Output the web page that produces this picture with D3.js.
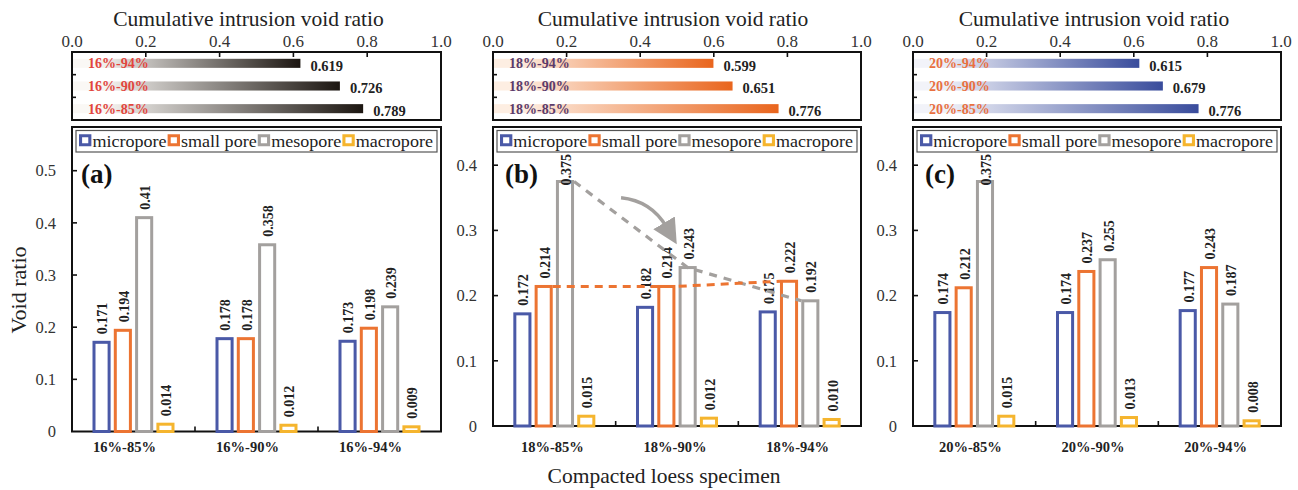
<!DOCTYPE html>
<html>
<head>
<meta charset="utf-8">
<script src="https://cdn.jsdelivr.net/npm/d3@7"></script>
<style>
  html, body { margin: 0; padding: 0; background: #fff; }
  svg { display: block; font-family: "Liberation Serif", "DejaVu Serif", serif; }
</style>
</head>
<body>
<svg id="chart" width="1298" height="490"></svg>
<script>
// ---- data ----
const seriesNames = ["micropore", "small pore", "mesopore", "macropore"];

const specimensA = ["16%-85%", "16%-90%", "16%-94%"];
const microA = [0.171, 0.178, 0.173];
const smallA = [0.194, 0.178, 0.198];
const mesoA  = [0.41, 0.358, 0.239];
const macroA = [0.014, 0.012, 0.009];
const cumRowsA = ["16%-94%", "16%-90%", "16%-85%"];
const cumA = [0.619, 0.726, 0.789];

const specimensB = ["18%-85%", "18%-90%", "18%-94%"];
const microB = [0.172, 0.182, 0.175];
const smallB = [0.214, 0.214, 0.222];
const mesoB  = [0.375, 0.243, 0.192];
const macroB = [0.015, 0.012, 0.010];
const cumRowsB = ["18%-94%", "18%-90%", "18%-85%"];
const cumB = [0.599, 0.651, 0.776];

const specimensC = ["20%-85%", "20%-90%", "20%-94%"];
const microC = [0.174, 0.174, 0.177];
const smallC = [0.212, 0.237, 0.243];
const mesoC  = [0.375, 0.255, 0.187];
const macroC = [0.015, 0.013, 0.008];
const cumRowsC = ["20%-94%", "20%-90%", "20%-85%"];
const cumC = [0.615, 0.679, 0.776];

const cumTicks = [0, 0.2, 0.4, 0.6, 0.8, 1.0];
const voidTicksA = [0, 0.1, 0.2, 0.3, 0.4, 0.5];
const voidTicksBC = [0, 0.1, 0.2, 0.3, 0.4];

// ---- styling / layout ----
const seriesColors = ["#4a59a7", "#ec7432", "#a3a09e", "#f5b52e"];

const panels = [
  { tag: "(a)", left: 72, right: 441, base: 431.5, yTop: 170.7, yMax: 0.5, ticks: voidTicksA,
    specimens: specimensA, series: [microA, smallA, mesoA, macroA], rows: cumRowsA, cum: cumA,
    gradFrom: "#faf8f5", gradTo: "#1c1611", rowLabel: "#e2453d", catDx: -9, titleDx: -8 },
  { tag: "(b)", left: 493, right: 861, base: 426, yTop: 165.2, yMax: 0.4, ticks: voidTicksBC,
    specimens: specimensB, series: [microB, smallB, mesoB, macroB], rows: cumRowsB, cum: cumB,
    gradFrom: "#fdeee2", gradTo: "#e9651d", rowLabel: "#5b3b6c", catDx: -2, titleDx: -4 },
  { tag: "(c)", left: 913, right: 1281, base: 426, yTop: 165.2, yMax: 0.4, ticks: voidTicksBC,
    specimens: specimensC, series: [microC, smallC, mesoC, macroC], rows: cumRowsC, cum: cumC,
    gradFrom: "#f2f3f9", gradTo: "#394c9c", rowLabel: "#e9703f", catDx: -4, titleDx: -3 }
];

const fmt = v => (v > 0.1 && Math.round(v * 1000) % 10 === 0) ? d3.format(".2f")(v) : d3.format(".3f")(v);

const svg = d3.select("#chart");
const defs = svg.append("defs");

defs.append("marker")
  .attr("id", "arrowHead")
  .attr("markerUnits", "userSpaceOnUse")
  .attr("viewBox", "0 0 20 20")
  .attr("refX", 4).attr("refY", 10)
  .attr("markerWidth", 25).attr("markerHeight", 25)
  .attr("orient", "auto")
  .append("path")
  .attr("d", "M0,0 L20,10 L0,20 Z")
  .attr("fill", "#a3a09e");

const lgY = 130.5, lgH = 21.5;

panels.forEach((p, pi) => {
  const g = svg.append("g");

  // ---------- cumulative intrusion void ratio (horizontal bars) ----------
  const cTop = 52, cBot = 120;
  const xc = d3.scaleLinear().domain([0, 1]).range([p.left, p.right]);
  const yc = d3.scaleBand().domain(p.rows).range([cTop, cBot]).paddingInner(0.6).paddingOuter(0.3);

  const grad = defs.append("linearGradient").attr("id", "grad" + pi)
    .attr("x1", "0%").attr("x2", "100%").attr("y1", "0%").attr("y2", "0%");
  grad.append("stop").attr("offset", "0%").attr("stop-color", p.gradFrom);
  grad.append("stop").attr("offset", "10%").attr("stop-color", p.gradFrom);
  grad.append("stop").attr("offset", "100%").attr("stop-color", p.gradTo);

  g.append("text")
    .attr("x", (p.left + p.right) / 2 + p.titleDx).attr("y", 26)
    .attr("text-anchor", "middle")
    .style("font-size", "21.5px").attr("fill", "#222")
    .text("Cumulative intrusion void ratio");

  g.selectAll(".ctl").data(cumTicks).join("text")
    .attr("x", d => xc(d)).attr("y", 46.5)
    .attr("text-anchor", "middle")
    .style("font-size", "17px").attr("fill", "#333")
    .text(d => d3.format(".1f")(d));

  g.selectAll(".cbar").data(p.cum).join("rect")
    .attr("x", xc(0))
    .attr("y", (d, i) => yc(p.rows[i]))
    .attr("width", d => xc(d) - xc(0))
    .attr("height", yc.bandwidth())
    .attr("fill", `url(#grad${pi})`);

  g.selectAll(".crow").data(p.rows).join("text")
    .attr("x", p.left + 16)
    .attr("y", d => yc(d) + yc.bandwidth() / 2)
    .attr("dy", "0.36em")
    .style("font-size", "14px").style("font-weight", "bold")
    .attr("fill", p.rowLabel)
    .text(d => d);

  g.selectAll(".cval").data(p.cum).join("text")
    .attr("x", d => xc(d) + 10)
    .attr("y", (d, i) => yc(p.rows[i]) + yc.bandwidth() / 2 + 2)
    .attr("dy", "0.36em")
    .style("font-size", "14.5px").style("font-weight", "bold")
    .attr("fill", "#222")
    .text(d => d3.format(".3f")(d));

  // top ticks pointing inward
  g.selectAll(".ctk").data(cumTicks.slice(1, -1)).join("line")
    .attr("x1", d => xc(d)).attr("x2", d => xc(d))
    .attr("y1", cTop).attr("y2", cTop + 5)
    .attr("stroke", "#111").attr("stroke-width", 1.6);
  // left ticks between rows
  const rowStep = yc.step();
  [1, 2].forEach(k => {
    const yy = yc(p.rows[0]) - yc.paddingInner() * rowStep / 2 + k * rowStep;
    g.append("line")
      .attr("x1", p.left).attr("x2", p.left + 4)
      .attr("y1", yy).attr("y2", yy)
      .attr("stroke", "#111").attr("stroke-width", 1.6);
  });

  g.append("rect")
    .attr("x", p.left).attr("y", cTop)
    .attr("width", p.right - p.left).attr("height", cBot - cTop)
    .attr("fill", "none").attr("stroke", "#111").attr("stroke-width", 2);

  // ---------- pore-size bars ----------
  const fTop = 127;
  const y = d3.scaleLinear().domain([0, p.yMax]).range([p.base, p.yTop]);
  const x0 = d3.scaleBand().domain(p.specimens).range([p.left, p.right]);
  const groupW = 82;
  const x1 = d3.scaleBand().domain(seriesNames).range([0, groupW]).paddingInner(0.15);
  const bw = x1.bandwidth();
  const gx = s => x0(s) + (x0.bandwidth() - groupW) / 2;

  // frame of the bar panel
  g.append("rect")
    .attr("x", p.left).attr("y", fTop)
    .attr("width", p.right - p.left).attr("height", p.base - fTop)
    .attr("fill", "none").attr("stroke", "#111").attr("stroke-width", 2);

  // legend
  const lgX = p.left + 4, lgW = p.right - p.left - 8;
  g.append("rect")
    .attr("x", lgX).attr("y", lgY).attr("width", lgW).attr("height", lgH)
    .attr("fill", "#fff").attr("stroke", "#555").attr("stroke-width", 1.2);
  const lg = g.append("g");
  let cur = 0;
  const fs = 17.5;
  const items = seriesNames.map((name, si) => {
    const it = lg.append("g");
    it.append("rect")
      .attr("x", 1.5).attr("y", -5.5).attr("width", 9).attr("height", 9)
      .attr("fill", "#fff").attr("stroke", seriesColors[si]).attr("stroke-width", 3);
    const t = it.append("text")
      .attr("x", 13).attr("y", 0).attr("dy", "0.3em")
      .style("font-size", fs + "px").attr("fill", "#222")
      .text(name);
    const w = 13 + t.node().getComputedTextLength() + 1;
    return { it, w };
  });
  const total = items.reduce((a, b) => a + b.w, 0);
  const avail = lgW - 6;
  const k = Math.min(1.08, avail / total);
  items.forEach(({ it, w }) => {
    it.attr("transform", `translate(${lgX + 3 + cur},${lgY + lgH / 2}) scale(${k},1)`);
    cur += w * k;
  });

  seriesNames.forEach((name, si) => {
    const vals = p.series[si];
    g.selectAll(null).data(vals).join("rect")
      .attr("x", (d, i) => gx(p.specimens[i]) + x1(name) + 1.5)
      .attr("y", d => y(d))
      .attr("width", bw - 3)
      .attr("height", d => p.base - y(d))
      .attr("fill", "none")
      .attr("stroke", seriesColors[si])
      .attr("stroke-width", 3);

    g.selectAll(null).data(vals).join("text")
      .attr("dy", "0.35em")
      .style("font-size", "14px").style("font-weight", "bold")
      .attr("fill", "#222")
      .text(d => fmt(d))
      .each(function (d, i) {
        const len = this.getComputedTextLength();
        const cx = gx(p.specimens[i]) + x1(name) + bw / 2 + 1;
        // keep the rotated label below the legend box
        const start = Math.max(y(d) - 8, lgY + lgH + 2 + len);
        d3.select(this).attr("transform", `translate(${cx},${start}) rotate(-90)`);
      });
  });

  // y axis
  g.selectAll(".ytl").data(p.ticks).join("text")
    .attr("x", p.left - 16).attr("y", d => y(d))
    .attr("dy", "0.35em").attr("text-anchor", "end")
    .style("font-size", "16.5px").attr("fill", "#333")
    .text(d => d === 0 ? "0" : d3.format(".1f")(d));
  g.selectAll(".ytk").data(p.ticks.slice(1)).join("line")
    .attr("x1", p.left).attr("x2", p.left + 5)
    .attr("y1", d => y(d)).attr("y2", d => y(d))
    .attr("stroke", "#111").attr("stroke-width", 1.6);

  // x axis categories and boundary ticks
  g.selectAll(".xtl").data(p.specimens).join("text")
    .attr("x", d => x0(d) + x0.bandwidth() / 2 + p.catDx).attr("y", 452)
    .attr("text-anchor", "middle")
    .style("font-size", "14.5px").style("font-weight", "bold")
    .attr("fill", "#222")
    .text(d => d);
  g.selectAll(".xtk").data(p.specimens.slice(1)).join("line")
    .attr("x1", d => x0(d)).attr("x2", d => x0(d))
    .attr("y1", p.base).attr("y2", p.base - 5)
    .attr("stroke", "#111").attr("stroke-width", 1.6);

  // (b) annotations: trend lines and arrow
  if (pi === 1) {
    const meso = p.series[2], small = p.series[1];
    const mx = i => gx(p.specimens[i]) + x1("mesopore");
    const sx = i => gx(p.specimens[i]) + x1("small pore");
    const greyPts = [
      [mx(0) + bw, y(meso[0])],
      [mx(1) + bw / 2, y(meso[1])],
      [mx(2), y(meso[2])]
    ];
    g.append("path")
      .attr("d", d3.line()(greyPts))
      .attr("fill", "none").attr("stroke", "#a3a09e")
      .attr("stroke-width", 3.2).attr("stroke-dasharray", "8,7");
    const orangePts = [
      [sx(0) + bw, y(small[0])],
      [sx(1) + bw, y(small[1])],
      [sx(2), y(small[2])]
    ];
    g.append("path")
      .attr("d", d3.line()(orangePts))
      .attr("fill", "none").attr("stroke", "#ec7432")
      .attr("stroke-width", 3).attr("stroke-dasharray", "8,6");

    const ax0 = mx(0) + bw + 47, ay0 = y(0.35);
    const ax1 = mx(1) - 12, ay1 = y(0.305);
    const ap = d3.path();
    ap.moveTo(ax0, ay0);
    ap.quadraticCurveTo(ax0 + 30, ay0 + 3, ax1, ay1);
    g.append("path")
      .attr("d", ap.toString())
      .attr("fill", "none").attr("stroke", "#a3a09e")
      .attr("stroke-width", 3.4)
      .attr("marker-end", "url(#arrowHead)");
  }

  // panel tag
  g.append("text")
    .attr("x", p.left + (pi === 0 ? 9 : 12)).attr("y", 183)
    .style("font-size", "27px").style("font-weight", "bold")
    .attr("fill", "#111")
    .text(p.tag);
});

// shared axis titles
svg.append("text")
  .attr("transform", "translate(26,290) rotate(-90)")
  .attr("text-anchor", "middle")
  .style("font-size", "22px").attr("fill", "#222")
  .text("Void ratio");

svg.append("text")
  .attr("x", 664).attr("y", 483)
  .attr("text-anchor", "middle")
  .style("font-size", "21.5px").attr("fill", "#222")
  .text("Compacted loess specimen");
</script>
</body>
</html>
